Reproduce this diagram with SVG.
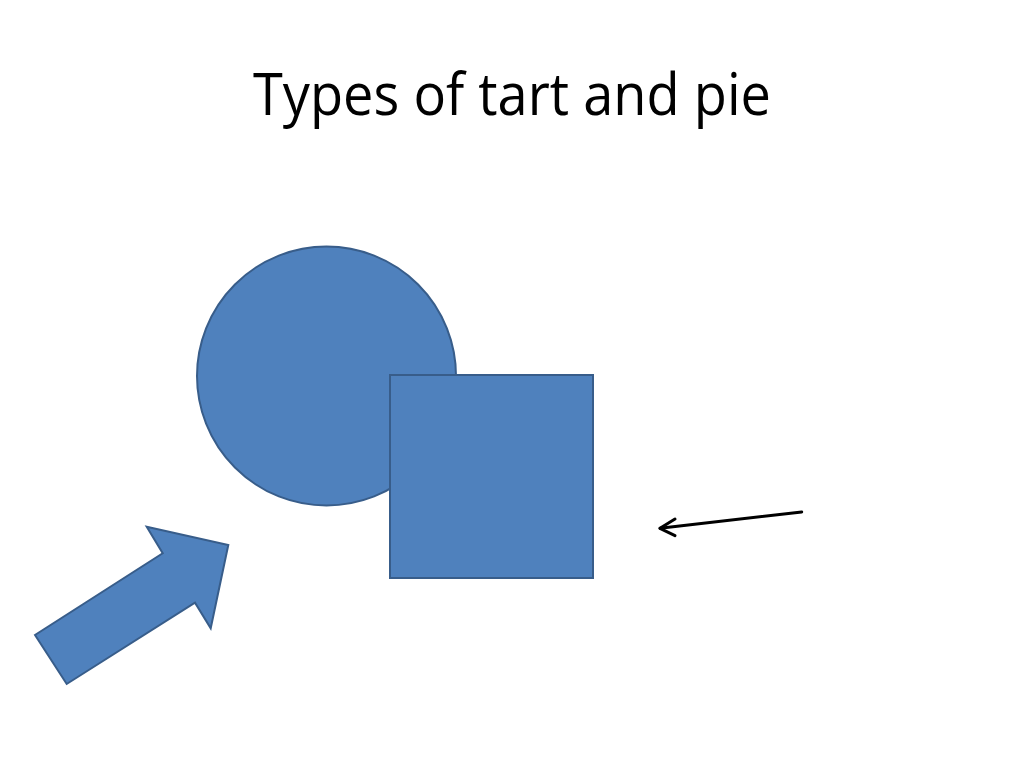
<svg xmlns="http://www.w3.org/2000/svg" width="1024" height="768" viewBox="0 0 1024 768">
  <style>
    .shape { fill: #4F81BD; stroke: #385D8A; stroke-width: 2; stroke-linejoin: miter; }
    .title { font-family: "Open Sans", "Liberation Sans", sans-serif; font-size: 58px; fill: #000; }
    .conn { stroke: #000; stroke-width: 3; fill: none; stroke-linecap: round; stroke-linejoin: round; }
  </style>
  <rect width="1024" height="768" fill="#fff"/>
  <text class="title" x="512" y="115" text-anchor="middle" textLength="518" lengthAdjust="spacingAndGlyphs">Types of tart and pie</text>
  <g id="circle">
    <circle class="shape" cx="326.5" cy="376" r="129.5"/>
  </g>
  <g id="square">
    <rect class="shape" x="390" y="375" width="203" height="203"/>
  </g>
  <g id="block-arrow">
    <polygon class="shape" points="35,635 66.7,684 195,602.7 210.7,628.3 228.3,545 146.7,526.7 162.7,553.3"/>
  </g>
  <g id="connectors">
    <line class="conn" x1="801.7" y1="512" x2="660" y2="528.3"/>
    <polyline class="conn" points="675,519 660,528.3 675,535.7"/>
  </g>
</svg>
